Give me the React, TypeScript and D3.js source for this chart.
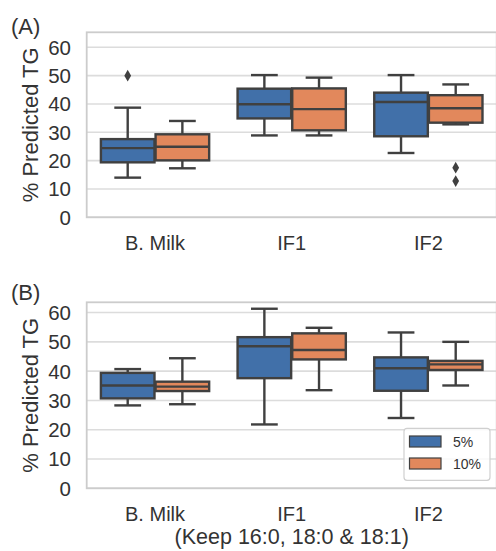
import React from "react";
import * as d3 from "d3";

const categories = ["B. Milk", "IF1", "IF2"];
const hues = ["5%", "10%"];
const hueColors = ["#4170a9", "#e2885c"];

// [lowWhisker, Q1, median, Q3, highWhisker] per category
const panelA_5 = [
  [14.0, 19.4, 24.4, 27.6, 38.7],
  [28.9, 34.9, 39.9, 45.4, 50.2],
  [22.7, 28.6, 40.7, 44.0, 50.2],
];
const panelA_10 = [
  [17.3, 20.1, 24.9, 29.3, 34.0],
  [28.9, 30.7, 38.2, 45.5, 49.3],
  [32.8, 33.4, 38.5, 43.1, 46.9],
];
const panelA_out5 = [[50.0], [], []];
const panelA_out10 = [[], [], [17.5, 12.8]];

const panelB_5 = [
  [28.3, 30.7, 35.1, 39.4, 40.7],
  [21.8, 37.6, 48.5, 51.6, 61.3],
  [24.0, 33.3, 41.0, 44.7, 53.2],
];
const panelB_10 = [
  [28.7, 33.2, 34.7, 36.4, 44.4],
  [33.5, 44.0, 47.2, 52.9, 54.8],
  [35.1, 40.4, 42.3, 43.5, 50.0],
];
const panelB_out5 = [[], [], []];
const panelB_out10 = [[], [], []];

const yTicks = [0, 10, 20, 30, 40, 50, 60];
const yLabel = "% Predicted TG";
const xSubtitle = "(Keep 16:0, 18:0 & 18:1)";

const TEXT = "#333333";
const EDGE = "#404040";
const FONT = "'Liberation Sans', Arial, sans-serif";

const x = d3.scaleBand<string>().domain(categories).range([86.7, 496.7]).padding(0);

function Panel({
  top,
  bottom,
  yMax,
  stats,
  outliers,
  tag,
  tagY,
  showLegend,
}: {
  top: number;
  bottom: number;
  yMax: number;
  stats: number[][][];
  outliers: number[][][];
  tag: string;
  tagY: number;
  showLegend: boolean;
}) {
  const y = d3.scaleLinear().domain([0, yMax]).range([bottom, top]);
  const step = x.bandwidth();
  const boxW = (0.8 / hues.length) * 0.98 * step;
  const left = x.range()[0];
  const right = x.range()[1];
  const diamond = d3.symbol().type(d3.symbolDiamond).size(40);
  return (
    <g>
      <text x={11} y={tagY} fontSize={22} fill={TEXT} fontFamily={FONT}>
        {tag}
      </text>
      {/* grid */}
      {yTicks.map((t) => (
        <line key={t} x1={left} x2={right} y1={y(t)} y2={y(t)} stroke="#dcdcdc" strokeWidth={1.6} />
      ))}
      {/* frame */}
      <rect x={left} y={top} width={right - left} height={bottom - top} fill="none" stroke="#cccccc" strokeWidth={1.8} />
      {/* y ticks */}
      {yTicks.map((t) => (
        <text key={t} x={71} y={y(t)} dy="0.36em" textAnchor="end" fontSize={20.5} fill={TEXT} fontFamily={FONT}>
          {t}
        </text>
      ))}
      <text
        transform={`translate(38,${(top + bottom) / 2}) rotate(-90)`}
        textAnchor="middle"
        fontSize={22}
        fill={TEXT}
        fontFamily={FONT}
      >
        {yLabel}
      </text>
      {/* x ticks */}
      {categories.map((c) => (
        <text key={c} x={x(c)! + step / 2} y={bottom + 32.3} textAnchor="middle" fontSize={20} fill={TEXT} fontFamily={FONT}>
          {c}
        </text>
      ))}
      {/* boxes */}
      {categories.map((c, ci) =>
        hues.map((h, hi) => {
          const s = stats[hi][ci];
          const cx = x(c)! + step / 2 + (hi - (hues.length - 1) / 2) * (0.8 / hues.length) * step;
          const [lo, q1, med, q3, hiW] = s;
          const capW = boxW / 2;
          return (
            <g key={c + h}>
              <line x1={cx} x2={cx} y1={y(q3)} y2={y(hiW)} stroke={EDGE} strokeWidth={2.4} />
              <line x1={cx} x2={cx} y1={y(q1)} y2={y(lo)} stroke={EDGE} strokeWidth={2.4} />
              <line x1={cx - capW / 2} x2={cx + capW / 2} y1={y(hiW)} y2={y(hiW)} stroke={EDGE} strokeWidth={2.4} />
              <line x1={cx - capW / 2} x2={cx + capW / 2} y1={y(lo)} y2={y(lo)} stroke={EDGE} strokeWidth={2.4} />
              <rect
                x={cx - boxW / 2}
                y={y(q3)}
                width={boxW}
                height={y(q1) - y(q3)}
                fill={hueColors[hi]}
                stroke={EDGE}
                strokeWidth={2.4}
              />
              <line x1={cx - boxW / 2} x2={cx + boxW / 2} y1={y(med)} y2={y(med)} stroke={EDGE} strokeWidth={2.4} />
              {outliers[hi][ci].map((o, oi) => (
                <path
                  key={oi}
                  d={diamond()!}
                  transform={`translate(${cx},${y(o)})`}
                  fill={EDGE}
                />
              ))}
            </g>
          );
        })
      )}
      {showLegend && (
        <g>
          <rect x={404} y={428.3} width={86} height={52} rx={3} fill="white" fillOpacity={0.8} stroke="#d0d0d0" strokeWidth={1.2} />
          {hues.map((h, hi) => (
            <g key={h}>
              <rect x={409.5} y={436 + hi * 22} width={31.5} height={11} fill={hueColors[hi]} stroke={EDGE} strokeWidth={1.2} />
              <text x={453} y={446.5 + hi * 22.8} fontSize={14} fill={TEXT} fontFamily={FONT}>
                {h}
              </text>
            </g>
          ))}
        </g>
      )}
    </g>
  );
}

export default function App() {
  return (
    <svg
      width={496}
      height={551}
      style={{ position: "absolute", left: 0, top: 0, background: "white" }}
    >
      <rect x={0} y={0} width={496} height={551} fill="white" />
      <Panel
        top={32.3}
        bottom={217.3}
        yMax={65.3}
        stats={[panelA_5, panelA_10]}
        outliers={[panelA_out5, panelA_out10]}
        tag="(A)"
        tagY={33.5}
        showLegend={false}
      />
      <Panel
        top={302.3}
        bottom={488.3}
        yMax={63.5}
        stats={[panelB_5, panelB_10]}
        outliers={[panelB_out5, panelB_out10]}
        tag="(B)"
        tagY={299.5}
        showLegend={true}
      />
      <text x={291.7} y={544} textAnchor="middle" fontSize={21.5} fill={TEXT} fontFamily={FONT}>
        {xSubtitle}
      </text>
    </svg>
  );
}
